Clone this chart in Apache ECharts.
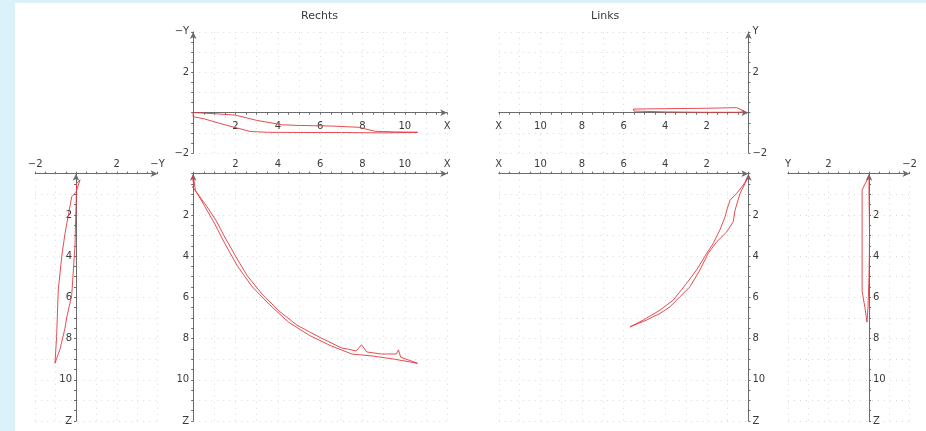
<!DOCTYPE html>
<html>
<head>
<meta charset="utf-8">
<script src="https://cdn.jsdelivr.net/npm/echarts@6/dist/echarts.min.js"></script>
<style>
html,body{margin:0;padding:0;background:#dbf2fb;width:926px;height:431px;overflow:hidden;}
#c{position:absolute;left:15px;top:3px;width:911px;height:428px;background:#fff;}
</style>
</head>
<body>
<div id="c"></div>
<script>
// ---- data ----
// Rechts, top view: X vs (-Y)
var rechtsTopOut  = [[0,0],[0.5,-0.02],[1,-0.05],[2,-0.12],[3,-0.38],[4.2,-0.6],[5,-0.63],[6.5,-0.66],[7.8,-0.72],[8.6,-0.92],[9.5,-0.95],[10.6,-0.97]];
var rechtsTopBack = [[10.6,-0.97],[9,-1.0],[7,-0.98],[5,-0.98],[3.5,-0.97],[2.7,-0.93],[1.5,-0.6],[0.5,-0.3],[0,-0.2],[0,0]];
// Rechts, front view: X vs Z
var rechtsMainOut  = [[0,0.05],[-0.1,0.55],[0.3,1.1],[0.65,1.6],[1.1,2.3],[1.45,3.0],[2,4.0],[2.55,4.95],[3.3,5.9],[4.1,6.7],[4.9,7.35],[6.0,7.95],[7.0,8.45],[7.7,8.6],[7.95,8.3],[8.2,8.65],[8.9,8.75],[9.6,8.75],[9.7,8.55],[9.8,8.9],[10.6,9.2]];
var rechtsMainBack = [[10.6,9.2],[9.5,9.0],[8.5,8.85],[7.5,8.75],[6.5,8.35],[5.5,7.85],[4.5,7.2],[3.6,6.35],[2.8,5.5],[2.1,4.5],[1.5,3.4],[1.0,2.4],[0.5,1.5],[0.1,0.8],[0,0.05]];
// Rechts, side view: (-Y) vs Z
var rechtsSideOut  = [[0.2,0.3],[0,0.9],[-0.21,1.12],[-0.54,2.9],[-0.7,4.03],[-0.87,5.65],[-0.95,7.9],[-1.03,9.2]];
var rechtsSideBack = [[-1.03,9.2],[-0.78,8.5],[-0.54,7.5],[-0.46,7.0],[-0.21,5.9],[-0.05,3.5],[0.03,0.47],[0.2,0.3]];
// Links, top view: X vs Y
var linksTopOut  = [[0.16,0.05],[0.56,0.25],[2,0.22],[4,0.2],[5.53,0.18]];
var linksTopBack = [[5.53,0.18],[5.5,0.08],[4,0.04],[2,0.02],[0.5,0.02],[0.16,0.05]];
// Links, front view: X vs Z
var linksMainOut  = [[0,0.15],[0.25,0.55],[0.56,0.95],[0.88,1.28],[1.04,1.76],[1.12,2.09],[1.37,2.73],[1.69,3.38],[2.0,3.86],[2.49,4.67],[2.97,5.32],[3.61,6.13],[4.25,6.62],[5.05,7.1],[5.69,7.43]];
var linksMainBack = [[5.69,7.43],[4.89,7.1],[4.25,6.78],[3.77,6.46],[3.29,5.97],[2.81,5.49],[2.33,4.67],[1.93,3.86],[1.52,3.3],[1.04,2.82],[0.73,2.33],[0.64,1.76],[0.4,0.95],[0.08,0.31],[0,0.15]];
// Links, side view: Y vs Z
var linksSideOut  = [[0,0.15],[0.25,0.6],[0.34,0.8],[0.34,3],[0.34,5.7],[0.2,6.5],[0.1,7.2]];
var linksSideBack = [[0.1,7.2],[0.05,6.5],[0,5],[-0.03,3],[0,1],[0,0.15]];

var titles = ['Rechts','Links'];

// ---- chart ----
var AX = '#6b6b6b', TX = '#3a3a3a', RED = '#e23a3f';
function fmt(names){
  return function(v){
    if (names.hasOwnProperty(String(v))) return names[String(v)];
    if (Math.abs(v % 2) === 0) return String(v).replace('-', '\u2212');
    return '';
  };
}
function axis(gi, min, max, opt){
  return {
    type:'value', gridIndex:gi, min:min, max:max, interval:1,
    inverse: !!opt.inverse, position: opt.position,
    axisLine:{show:true, onZero:true, lineStyle:{color:AX, width:1}, symbol:['none','arrow'], symbolSize:[5,7]},
    axisTick:{show:true, length:2, lineStyle:{color:AX}},
    minorTick:{show:true, splitNumber:2, length:2, lineStyle:{color:AX}},
    axisLabel:{show:!opt.noLabel, formatter: fmt(opt.names), fontSize:10, color:TX, margin:opt.margin||4, fontFamily:'DejaVu Sans', showMinLabel:true, showMaxLabel:true},
    splitLine:{show:true, lineStyle:{type:[1,5], color:'#d9d9d9', width:1}}
  };
}
// label-only axis placed along an inner (zero) line
function labelAxis(gi, min, max, opt){
  return {
    type:'value', gridIndex:gi, min:min, max:max, interval:1,
    inverse: !!opt.inverse, position: opt.position,
    axisLine:{show:false, onZero:false}, axisTick:{show:false}, minorTick:{show:false},
    splitLine:{show:false},
    axisLabel:{show:true, inside:true, formatter: fmt(opt.names), fontSize:10, color:TX, margin:opt.margin||4, fontFamily:'DejaVu Sans', showMinLabel:true, showMaxLabel:true}
  };
}
function hiddenAxis(gi){ return {type:'value', gridIndex:gi, min:0, max:1, show:false}; }

var grids = [
  {left:178.2, top:28.9, width:254, height:121.2},
  {left:178.2, top:170.7, width:254, height:247.3},
  {left:20.2, top:170.7, width:122.4, height:247.3},
  {left:483.8, top:28.9, width:249.6, height:121.2},
  {left:483.8, top:170.7, width:249.6, height:247.3},
  {left:773, top:170.7, width:121.5, height:247.3},
  // overlay grids carrying the labels of the inner axes
  {left:178.2, top:109.7, width:254, height:40.4},
  {left:483.8, top:109.7, width:249.6, height:40.4},
  {left:20.2, top:170.7, width:40.8, height:247.3},
  {left:854, top:170.7, width:40.5, height:247.3}
];
var xAxes = [
  axis(0, 0, 12, {position:'bottom', noLabel:true, names:{'0':'','12':'X'}}),
  axis(1, 0, 12, {position:'top', names:{'0':'','12':'X'}}),
  axis(2, -2, 4, {position:'top', names:{'0':'','4':'\u2212Y'}}),
  axis(3, 0, 12, {position:'bottom', inverse:true, noLabel:true, names:{'0':'','12':'X'}}),
  axis(4, 0, 12, {position:'top', inverse:true, names:{'0':'','12':'X'}}),
  axis(5, -2, 4, {position:'top', inverse:true, names:{'0':'','4':'Y'}}),
  labelAxis(6, 0, 12, {position:'top', margin:9, names:{'0':'','12':'X'}}),
  labelAxis(7, 0, 12, {position:'top', margin:9, inverse:true, names:{'0':'','12':'X'}}),
  hiddenAxis(8),
  hiddenAxis(9)
];
var yAxes = [
  axis(0, -2, 4, {position:'left', names:{'0':'','4':'\u2212Y'}}),
  axis(1, 0, 12, {position:'left', inverse:true, names:{'0':'','12':'Z'}}),
  axis(2, 0, 12, {position:'left', inverse:true, noLabel:true, names:{'0':'','12':'Z'}}),
  axis(3, -2, 4, {position:'right', names:{'0':'','4':'Y'}}),
  axis(4, 0, 12, {position:'right', inverse:true, names:{'0':'','12':'Z'}}),
  axis(5, 0, 12, {position:'right', inverse:true, noLabel:true, names:{'0':'','12':'Z'}}),
  hiddenAxis(6),
  hiddenAxis(7),
  labelAxis(8, 0, 12, {position:'right', inverse:true, margin:4, names:{'0':'','12':'Z'}}),
  labelAxis(9, 0, 12, {position:'left', inverse:true, margin:4, names:{'0':'','12':'Z'}})
];
function line(idx, pts){
  return {type:'line', xAxisIndex:idx, yAxisIndex:idx, data:pts, showSymbol:false, symbol:'none',
          lineStyle:{color:RED, width:1, opacity:0.9}, silent:true, animation:false, z:3};
}
var series = [
  line(0, rechtsTopOut.concat(rechtsTopBack)),
  line(1, rechtsMainOut.concat(rechtsMainBack)),
  line(2, rechtsSideOut.concat(rechtsSideBack)),
  line(3, linksTopOut.concat(linksTopBack)),
  line(4, linksMainOut.concat(linksMainBack)),
  line(5, linksSideOut.concat(linksSideBack))
];
var chart = echarts.init(document.getElementById('c'), null, {renderer:'canvas'});
chart.setOption({
  animation:false,
  backgroundColor:'#ffffff',
  title:[
    {text:titles[0], left:281, top:3, textStyle:{fontSize:11, fontWeight:'normal', color:TX, fontFamily:'DejaVu Sans'}},
    {text:titles[1], left:571, top:3, textStyle:{fontSize:11, fontWeight:'normal', color:TX, fontFamily:'DejaVu Sans'}}
  ],
  grid: grids,
  xAxis: xAxes,
  yAxis: yAxes,
  series: series
});
</script>
</body>
</html>
